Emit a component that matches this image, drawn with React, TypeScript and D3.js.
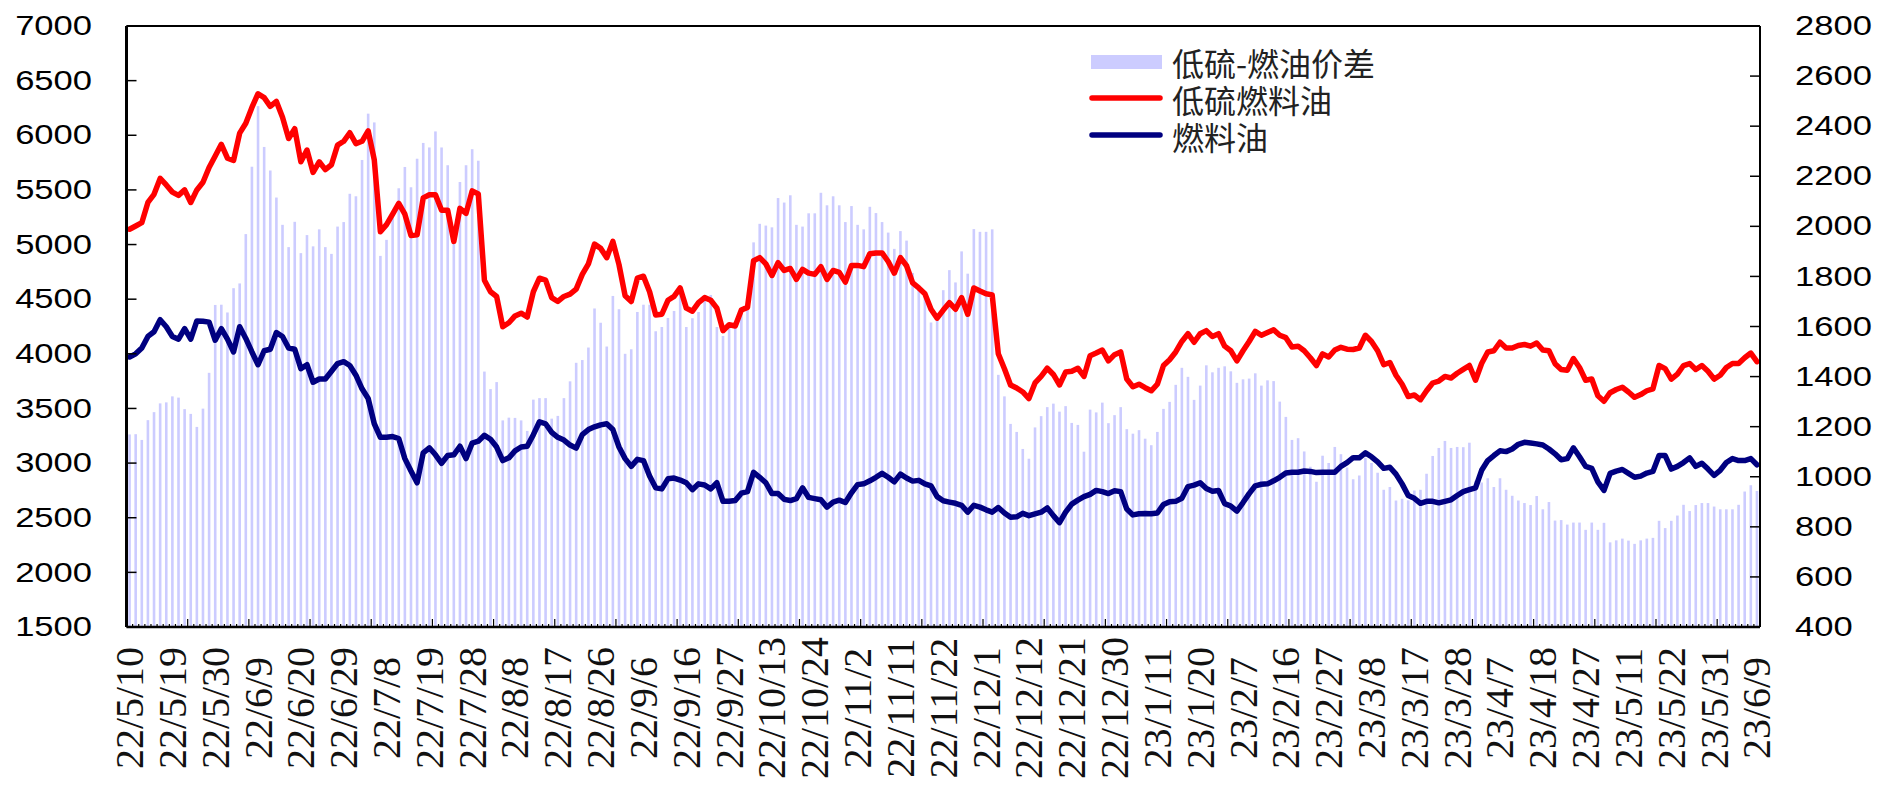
import React from "react";
import * as d3 from "d3";

// tick labels on the category axis, one every 7 trading days
const dateLabels = [
  "22/5/10", "22/5/19", "22/5/30", "22/6/9", "22/6/20", "22/6/29", "22/7/8", "22/7/19",
  "22/7/28", "22/8/8", "22/8/17", "22/8/26", "22/9/6", "22/9/16", "22/9/27", "22/10/13",
  "22/10/24", "22/11/2", "22/11/11", "22/11/22", "22/12/1", "22/12/12", "22/12/21", "22/12/30",
  "23/1/11", "23/1/20", "23/2/7", "23/2/16", "23/2/27", "23/3/8", "23/3/17", "23/3/28",
  "23/4/7", "23/4/18", "23/4/27", "23/5/11", "23/5/22", "23/5/31", "23/6/9",
];
const labelStep = 7;

// 低硫燃料油 (left axis)
const lsfoPrice = [
  5140, 5170, 5200, 5385, 5460, 5605, 5545, 5480, 5450, 5500,
  5385, 5500, 5570, 5705, 5810, 5917, 5790, 5770, 6020, 6110,
  6255, 6380, 6345, 6265, 6310, 6165, 5970, 6060, 5757, 5865,
  5660, 5757, 5686, 5730, 5910, 5945, 6023, 5924, 5945, 6041,
  5775, 5118, 5182, 5278, 5377, 5278, 5083, 5090, 5427, 5455,
  5455, 5313, 5313, 5029, 5331, 5285, 5491, 5462, 4674, 4568,
  4525, 4248, 4284, 4347, 4372, 4337, 4568, 4692, 4674, 4514,
  4479, 4525, 4546, 4592, 4727, 4823, 5004, 4965, 4880, 5029,
  4816, 4532, 4479, 4692, 4710, 4568, 4355, 4362, 4490, 4525,
  4603, 4418, 4390, 4468, 4514, 4490, 4418, 4212, 4266, 4255,
  4400, 4425, 4852, 4880, 4823, 4717, 4834, 4763, 4781, 4681,
  4773, 4738, 4727, 4798, 4681, 4763, 4745, 4656, 4809, 4809,
  4798, 4916, 4923, 4923, 4845, 4738, 4880, 4806, 4649, 4603,
  4550, 4408, 4326, 4400, 4468, 4408, 4514, 4362, 4603, 4575,
  4550, 4539, 4000, 3864, 3715, 3687, 3651, 3591, 3733, 3793,
  3868, 3811, 3715, 3833, 3840, 3868, 3793, 3982, 4007, 4035,
  3935, 3992, 4017, 3769, 3698, 3722, 3690, 3662, 3722, 3893,
  3946, 4017, 4113, 4184, 4106, 4184, 4212, 4159, 4184, 4070,
  4028, 3936, 4028, 4113, 4205, 4170, 4195, 4220, 4170, 4148,
  4063, 4070, 4028, 3964, 3893, 4000, 3971, 4035, 4060, 4042,
  4040, 4053, 4170, 4113, 4028, 3900, 3921, 3804, 3722, 3609,
  3623, 3580, 3662, 3733, 3751, 3793, 3779, 3822, 3857, 3893,
  3758, 3911, 4017, 4028, 4106, 4053, 4053, 4077, 4085, 4070,
  4099, 4035, 4028, 3910, 3857, 3850, 3957, 3875, 3758, 3769,
  3616, 3566, 3644, 3673, 3694, 3651, 3602, 3627, 3662, 3680,
  3893, 3864, 3769, 3815, 3893, 3911, 3857, 3893, 3840, 3769,
  3804, 3875, 3911, 3911, 3964, 4007, 3928,
];

// 燃料油 (left axis)
const foPrice = [
  3971, 4000, 4053, 4159, 4202, 4312, 4248, 4159, 4134, 4230,
  4134, 4301, 4298, 4290, 4124, 4230, 4134, 4017, 4248, 4141,
  4017, 3900, 4028, 4042, 4195, 4159, 4053, 4042, 3864, 3900,
  3740, 3769, 3769, 3840, 3911, 3928, 3893, 3804, 3680, 3591,
  3360, 3236, 3236, 3243, 3225, 3041, 2927, 2820, 3094, 3140,
  3076, 2998, 3069, 3076, 3154, 3041, 3183, 3200, 3254, 3218,
  3147, 3023, 3048, 3112, 3147, 3154, 3260, 3378, 3360, 3282,
  3236, 3211, 3165, 3137, 3261, 3307, 3332, 3350, 3360, 3307,
  3147, 3041, 2970, 3034, 3023, 2881, 2774, 2764, 2856, 2863,
  2845, 2820, 2757, 2810, 2800, 2764, 2820, 2650, 2650, 2657,
  2725, 2739, 2916, 2870, 2820, 2721, 2721, 2668, 2657, 2675,
  2774, 2686, 2675, 2664, 2597, 2643, 2661, 2639, 2728, 2803,
  2810, 2838, 2870, 2906, 2870, 2828, 2899, 2863, 2835, 2842,
  2810, 2792, 2693, 2655, 2643, 2632, 2614, 2551, 2614, 2597,
  2572, 2551, 2593, 2543, 2504, 2508, 2540, 2519, 2536, 2551,
  2590, 2519, 2455, 2551, 2625, 2661, 2693, 2714, 2750, 2739,
  2721, 2746, 2739, 2579, 2526, 2536, 2538, 2536, 2543, 2622,
  2647, 2650, 2678, 2785, 2799, 2820, 2767, 2742, 2749, 2629,
  2607, 2561, 2639, 2721, 2792, 2806, 2810, 2838, 2870, 2909,
  2916, 2916, 2927, 2924, 2913, 2916, 2916, 2916, 2970, 3005,
  3050, 3048, 3094, 3058, 3012, 2952, 2962, 2899, 2810, 2703,
  2678, 2632, 2650, 2650, 2636, 2650, 2664, 2703, 2739, 2757,
  2774, 2934, 3023, 3069, 3112, 3105, 3129, 3172, 3190, 3183,
  3176, 3165, 3129, 3085, 3030, 3041, 3140, 3058, 2970, 2952,
  2828, 2750, 2906, 2927, 2941, 2906, 2870, 2881, 2909, 2924,
  3069, 3069, 2945, 2970, 3005, 3048, 2970, 2998, 2945, 2888,
  2934, 3005, 3041, 3023, 3023, 3041, 2985,
];

const leftTicks = d3.range(1500, 7001, 500);
const rightTicks = d3.range(400, 2801, 200);

const W = 1880;
const H = 790;
const plot = { left: 126.5, right: 1760, top: 26, bottom: 627 };

export default function App() {
  const n = lsfoPrice.length;
  // 低硫-燃油价差 = 低硫燃料油 - 燃料油
  const spread = lsfoPrice.map((v, i) => v - foPrice[i]);

  const x = d3.scaleBand<number>().domain(d3.range(n)).range([plot.left, plot.right]);
  const cx = (i: number) => (x(i) ?? 0) + x.bandwidth() / 2;
  const yLeft = d3.scaleLinear().domain([1500, 7000]).range([plot.bottom, plot.top]);
  const yRight = d3.scaleLinear().domain([400, 2800]).range([plot.bottom, plot.top]);

  const line = d3.line<number>().x((d, i) => cx(i)).y((d) => yLeft(d));

  const barW = 2.6;

  return (
    <svg width={W} height={H} style={{ display: "block" }}>
      <style>{`body{margin:0}`}</style>
      <rect width={W} height={H} fill="#fff" />

      {/* spread bars on the right axis */}
      {spread.map((d, i) => (
        <rect
          key={i}
          x={cx(i) - barW / 2}
          y={yRight(d)}
          width={barW}
          height={plot.bottom - yRight(d)}
          fill="#ccccff"
        />
      ))}

      <path d={line(lsfoPrice) ?? ""} fill="none" stroke="#ff0000" strokeWidth={5.5} strokeLinejoin="round" strokeLinecap="round" />
      <path d={line(foPrice) ?? ""} fill="none" stroke="#000080" strokeWidth={5.5} strokeLinejoin="round" strokeLinecap="round" />

      {/* frame */}
      <line x1={plot.left} x2={plot.right} y1={plot.top} y2={plot.top} stroke="#000" strokeWidth={2} />
      <line x1={plot.right} x2={plot.right} y1={plot.top} y2={plot.bottom} stroke="#000" strokeWidth={2} />
      <line x1={plot.left} x2={plot.right} y1={plot.bottom} y2={plot.bottom} stroke="#000" strokeWidth={2.5} />
      <line x1={plot.left} x2={plot.left} y1={plot.top} y2={plot.bottom} stroke="#000" strokeWidth={3} />

      {/* left axis */}
      {leftTicks.map((t) => (
        <g key={t}>
          <line x1={plot.left} x2={plot.left + 10} y1={yLeft(t)} y2={yLeft(t)} stroke="#000" strokeWidth={1.5} />
          <text
            transform={`translate(92, ${yLeft(t)}) scale(1.28,1)`}
            textAnchor="end"
            dominantBaseline="central"
            fontFamily="Liberation Sans, Arial, sans-serif"
            fontSize={27}
            fill="#000"
          >
            {t}
          </text>
        </g>
      ))}

      {/* right axis */}
      {rightTicks.map((t) => (
        <g key={t}>
          <line x1={plot.right - 10} x2={plot.right} y1={yRight(t)} y2={yRight(t)} stroke="#000" strokeWidth={1.5} />
          <text
            transform={`translate(1795, ${yRight(t)}) scale(1.28,1)`}
            textAnchor="start"
            dominantBaseline="central"
            fontFamily="Liberation Sans, Arial, sans-serif"
            fontSize={27}
            fill="#000"
          >
            {t}
          </text>
        </g>
      ))}

      {/* category axis ticks */}
      {d3.range(1, n).map((i) => (
        <line
          key={i}
          x1={x(i)}
          x2={x(i)}
          y1={plot.bottom}
          y2={plot.bottom - (i % 10 === 0 ? 8 : 3)}
          stroke="#000"
          strokeWidth={1.2}
        />
      ))}
      {dateLabels.map((lab, k) => (
        <text
          key={lab}
          transform={`translate(${cx(k * labelStep)}, 708) rotate(-90)`}
          textAnchor="middle"
          dominantBaseline="central"
          fontFamily="Liberation Serif, Times New Roman, serif"
          fontSize={40}
          fill="#111"
        >
          {lab}
        </text>
      ))}

      {/* legend */}
      <g fontFamily="Noto Sans CJK SC, sans-serif" fontSize={32} fill="#222">
        <rect x={1091} y={55} width={71} height={14} fill="#ccccff" />
        <text x={1172} y={62} dominantBaseline="central">低硫-燃油价差</text>
        <line x1={1092} x2={1160} y1={98} y2={98} stroke="#ff0000" strokeWidth={5.5} strokeLinecap="round" />
        <text x={1172} y={99} dominantBaseline="central">低硫燃料油</text>
        <line x1={1092} x2={1160} y1={135} y2={135} stroke="#000080" strokeWidth={5.5} strokeLinecap="round" />
        <text x={1172} y={136} dominantBaseline="central">燃料油</text>
      </g>
    </svg>
  );
}
